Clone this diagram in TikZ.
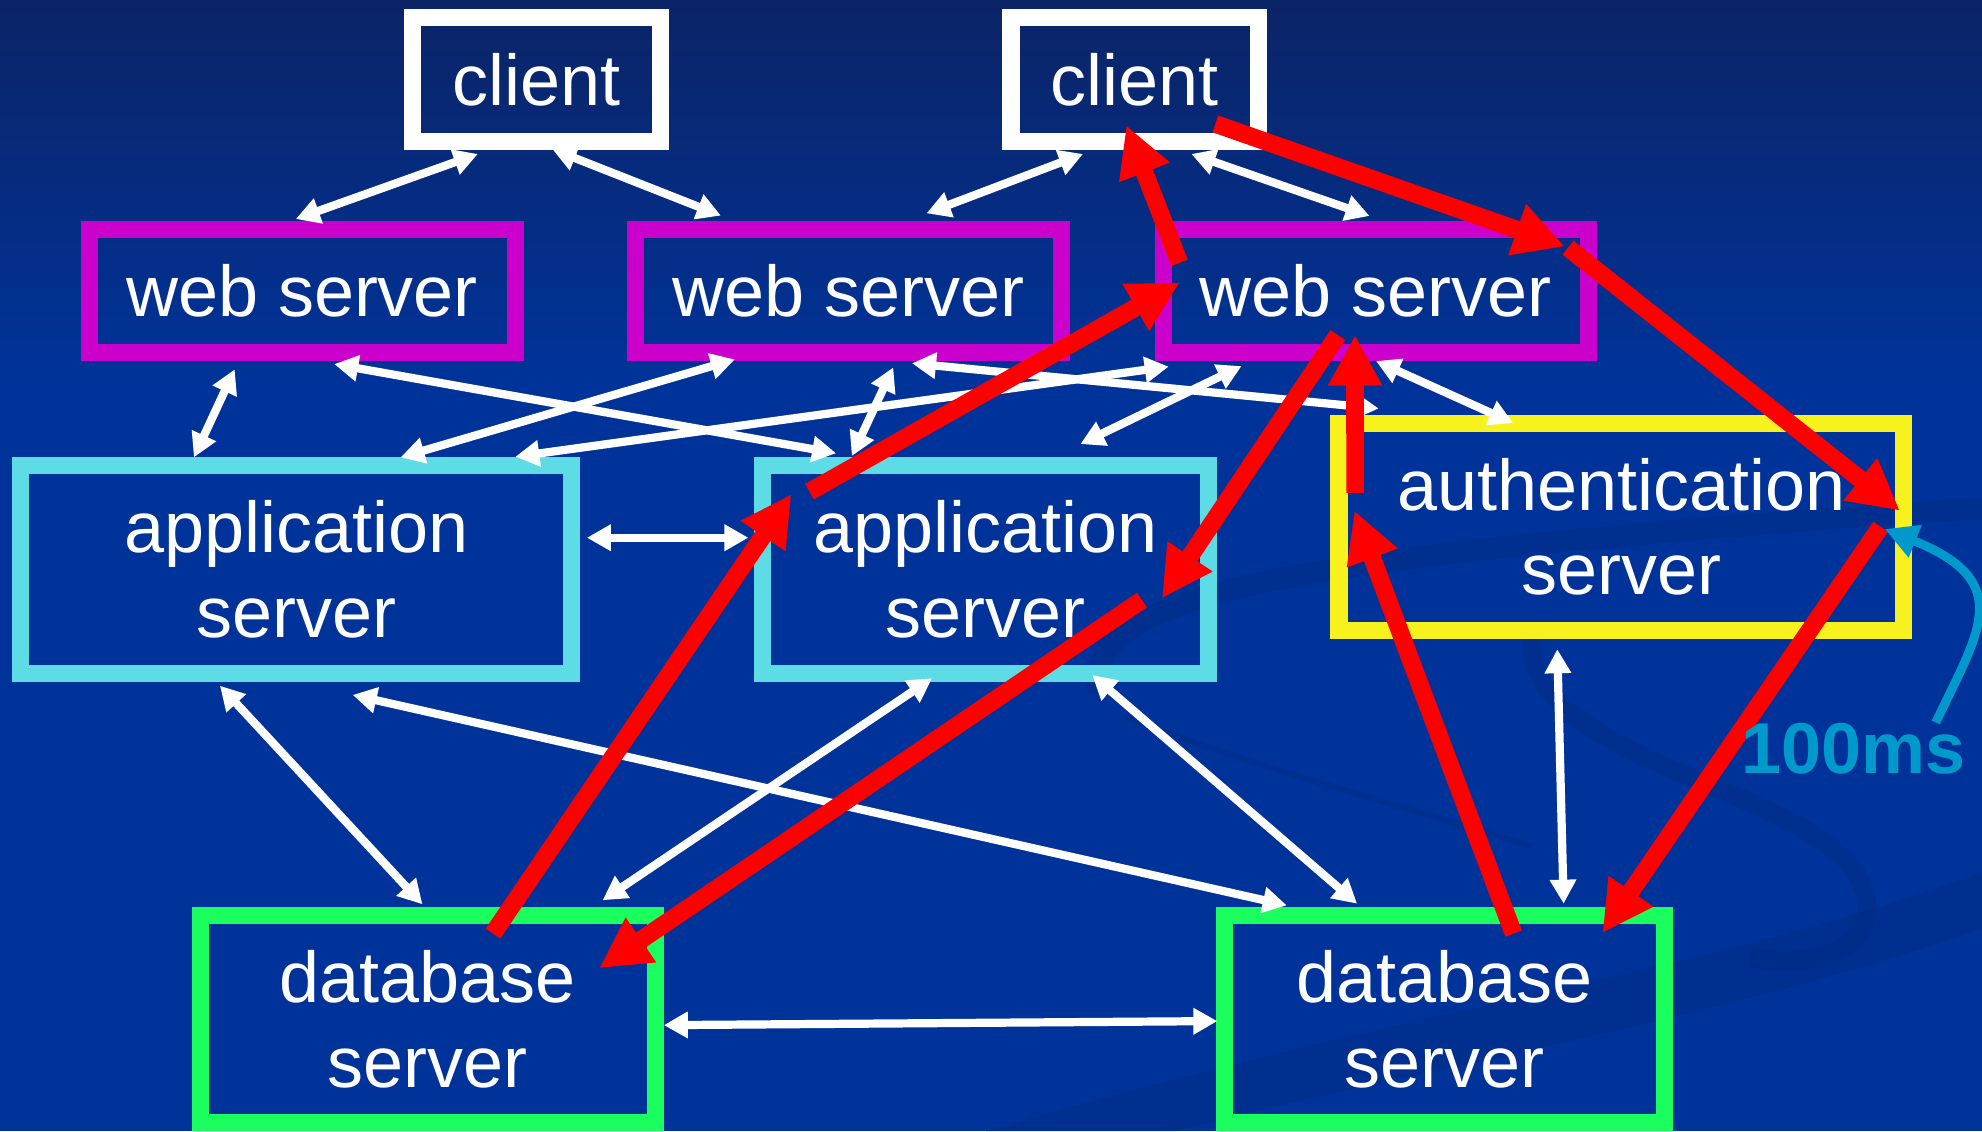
\documentclass[tikz,border=0pt]{standalone}
\usepackage{fontspec}
\setmainfont{Liberation Sans}
\usetikzlibrary{arrows.meta,calc}

\definecolor{bgblue}{HTML}{003399}
\definecolor{bgtop}{HTML}{0B2466}
\definecolor{swirl}{HTML}{00287E}
\definecolor{webmag}{HTML}{CC00CC}
\definecolor{appcyan}{HTML}{5EDCE6}
\definecolor{authyel}{HTML}{F7F21E}
\definecolor{dbgreen}{HTML}{1AFF5E}
\definecolor{flowred}{HTML}{FF0000}
\definecolor{latency}{HTML}{0099CC}

\newcommand\boxfont{\fontsize{32.4}{38.1}\selectfont}

\begin{document}
\begin{tikzpicture}[
  x=0.02cm, y=-0.02cm,
  box/.style={draw, line width=0.27cm, inner sep=0pt, text=white,
              align=center, font=\boxfont},
  clientbox/.style={box, draw=white, minimum width=3.92cm, minimum height=1.956cm},
  webbox/.style={box, draw=webmag, minimum height=1.944cm},
  appbox/.style={box, draw=appcyan, minimum height=3.29cm},
  authbox/.style={box, draw=authyel, minimum width=8.93cm, minimum height=3.28cm},
  dbbox/.style={box, draw=dbgreen, minimum height=3.27cm},
  link/.style={draw=white, line width=0.13cm,
               {Triangle[length=0.38cm,width=0.4cm]}-{Triangle[length=0.38cm,width=0.4cm]}},
  flow/.style={draw=flowred, line width=0.28cm,
               -{Triangle[length=0.8cm,width=0.8cm]}},
  wait/.style={draw=latency, line width=0.14cm,
               -{Triangle[length=0.52cm,width=0.52cm]}},
  faint/.style={swirl, opacity=0.3}
]

% background with darker top
\useasboundingbox (0,0) rectangle (1568,895);
\fill[bgblue] (0,0) rectangle (1568,895);
\shade[top color=bgtop, bottom color=bgblue] (0,0) rectangle (1568,300);

% faint swirls in the lower right
\fill[faint] (780,895) .. controls (1100,800) and (1350,770) .. (1568,690)
  -- (1568,735) .. controls (1350,810) and (1100,850) .. (930,895) -- cycle;
\draw[faint, line width=0.35cm] (868,548) .. controls (860,470) and (1000,440) .. (1568,402);
\draw[faint, line width=0.3cm] (1212,500) .. controls (1200,600) and (1420,620) .. (1468,690)
  .. controls (1500,745) and (1440,770) .. (1385,757);
\draw[faint, line width=0.1cm] (890,567) .. controls (1000,610) and (1120,640) .. (1212,670);

% machines
\node[clientbox] (client1) at (424.3,63.1) {client};
\node[clientbox] (client2) at (897.8,63.1) {client};

\node[webbox, minimum width=6.74cm] (web1) at (239,230.3) {web server};
\node[webbox, minimum width=6.75cm] (web2) at (671.2,230.3) {web server};
\node[webbox, minimum width=6.73cm] (web3) at (1088.5,230.3) {web server};

\node[appbox, minimum width=8.72cm] (app1) at (234.4,450.3) {application\\server};
\node[appbox, minimum width=7.06cm] (app2) at (779.5,450.3) {application\\server};
\node[authbox] (auth) at (1282.5,416.7) {authentication\\server};

\node[dbbox, minimum width=7.19cm] (db1) at (338.5,806.2) {database\\server};
\node[dbbox, minimum width=6.96cm] (db2) at (1142.8,806.2) {database\\server};

% all the possible connections
\draw[link] ($(client1.south)+(-46.3,3.1)$) -- ($(web1.north)+(-5,-1.7)$);
\draw[link] ($(client1.south)+(12.7,-0.7)$) -- ($(web2.north)+(-100.9,-4.4)$);
\draw[link] ($(client2.south)+(-41,3.1)$) -- ($(web2.north)+(61.8,-6.2)$);
\draw[link] ($(client2.south)+(44.7,3.1)$) -- ($(web3.north)+(-5,-4.1)$);
\draw[link] ($(web1.south)+(-53.3,6.6)$) -- ($(app1.north)+(-81,0.5)$);
\draw[link] ($(web1.south)+(25.4,2.4)$) -- ($(app2.north)+(-118,-2.7)$);
\draw[link] ($(web2.south)+(-89.9,-1.3)$) -- ($(app1.north)+(82.5,0.5)$);
\draw[link] ($(web3.south)+(-163.9,4.4)$) -- ($(app1.north)+(173.3,0)$);
\draw[link] ($(web2.south)+(35.5,5)$) -- ($(app2.north)+(-105.6,-0.5)$);
\draw[link] ($(web2.south)+(50.3,1.8)$) -- ($(auth.north)+(-191.8,-4.8)$);
\draw[link] ($(web3.south)+(-106.3,4)$) -- ($(app2.north)+(75.2,-10)$);
\draw[link] ($(web3.south)+(0.1,0)$) -- ($(auth.north)+(-85.5,6.6)$);
\draw[link] ($(app1.east)+(5.2,-24.9)$) -- ($(app2.west)+(-4.2,-24.9)$);
\draw[link] ($(app1.south)+(-60.4,3.2)$) -- ($(db1.north)+(-4.3,-2.3)$);
\draw[link] ($(app1.south)+(44.6,10.5)$) -- ($(db2.north)+(-124.8,-1.5)$);
\draw[link] ($(app2.south)+(-42.1,-2.7)$) -- ($(db1.north)+(138.2,-5.5)$);
\draw[link] ($(app2.south)+(84.5,-5.3)$) -- ($(db2.north)+(-69.2,-2.8)$);
\draw[link] ($(auth.south)+(-50.5,8.2)$) -- ($(db2.north)+(94.2,-2.8)$);
\draw[link] ($(db1.east)+(0.2,4.8)$) -- ($(db2.west)+(1,1.6)$);

% path of one request
\draw[flow] ($(client2.south)+(63.7,-20.7)$) -- ($(web3.north east)+(-25.5,20)$);
\draw[flow] ($(web3.north east)+(-23,21)$) -- ($(auth.east)+(-9.4,-12.7)$);
\draw[flow] ($(auth.east)+(-24.7,0)$) -- ($(db2.north)+(124.9,20.4)$);
\draw[flow] ($(db2.north)+(54.6,20.9)$) -- ($(auth.west)+(19,-12.7)$);
\draw[flow] ($(auth.west)+(19.5,-26.7)$) -- ($(web3.south)+(-16.5,-20.6)$);
\draw[flow] ($(web3.south)+(-30.1,-20.6)$) -- ($(app2.east)+(-43.5,23.1)$);
\draw[flow] ($(app2.east)+(-59.3,24.4)$) -- ($(db1.east)+(-51,-40.2)$);
\draw[flow] ($(db1.north)+(51.5,20.9)$) -- ($(app2.west)+(29.8,-59.3)$);
\draw[flow] ($(app2.west)+(44.1,-61.3)$) -- ($(web3.west)+(19.8,-6.7)$);
\draw[flow] ($(web3.north west)+(19.6,33)$) -- ($(client2.south)+(-6.8,-19.7)$);

% latency of the authentication step
\node[text=latency, font=\boxfont\bfseries, inner sep=0pt] (lat) at (1466.5,592) {100ms};
\draw[wait] ($(lat.north east)+(-24,0)$) .. controls +(34,-72) and +(104,42) .. ($(auth.east)+(-21.4,1.8)$);

\end{tikzpicture}
\end{document}
